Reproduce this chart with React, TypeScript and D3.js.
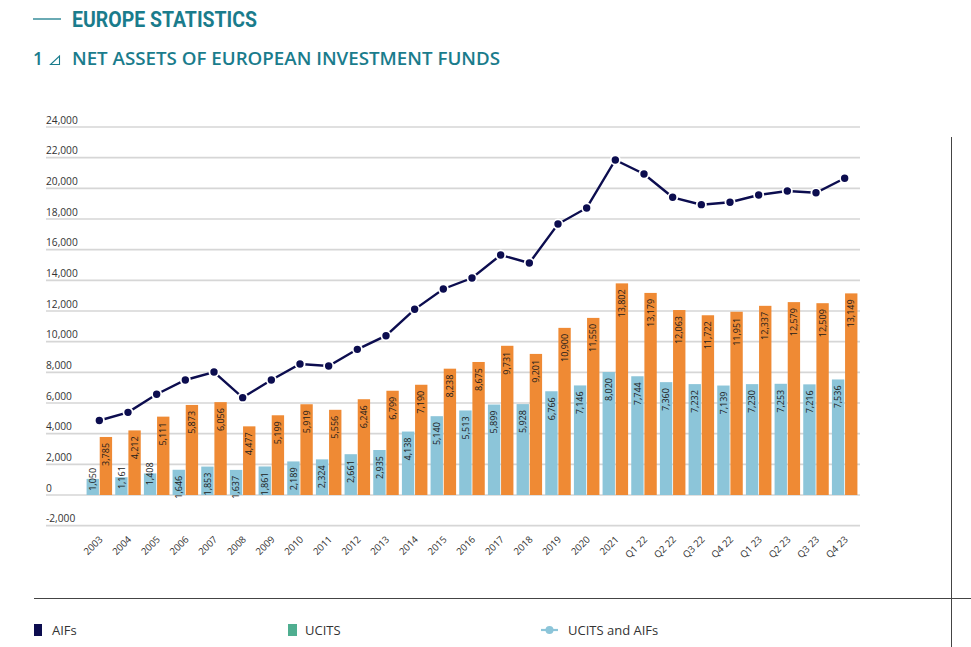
import React from "react";
import * as d3 from "d3";

const categories = ["2003","2004","2005","2006","2007","2008","2009","2010","2011","2012","2013","2014","2015","2016","2017","2018","2019","2020","2021","Q1 22","Q2 22","Q3 22","Q4 22","Q1 23","Q2 23","Q3 23","Q4 23"];
const blueValues = [1050,1161,1408,1646,1853,1637,1861,2189,2324,2661,2935,4138,5140,5513,5899,5928,6766,7146,8020,7744,7360,7232,7139,7230,7253,7216,7536];
const orangeValues = [3785,4212,5111,5873,6056,4477,5199,5919,5556,6246,6799,7190,8238,8675,9731,9201,10900,11550,13802,13179,12063,11722,11951,12337,12579,12509,13149];
const lineValues = [4860,5390,6570,7500,8020,6350,7500,8545,8415,9500,10390,12110,13435,14150,15650,15130,17670,18720,21850,20935,19415,18935,19090,19565,19825,19715,20655];
const yTicks = [-2000,0,2000,4000,6000,8000,10000,12000,14000,16000,18000,20000,22000,24000];
const legendItems = ["AIFs","UCITS","UCITS and AIFs"];

const TEAL = "#1a7c8c";
const BLUE = "#8cc5d9";
const ORANGE = "#ef8a34";
const NAVY = "#0c0d4f";
const fmt = (v: number) => d3.format(",")(v).replace("\u2212", "-");

export default function App() {
  const W = 971, H = 647;
  const y = d3.scaleLinear().domain([0, 24000]).range([495, 127]);
  const x = d3.scaleBand<string>().domain(categories).range([85, 859]).paddingInner(0.11).paddingOuter(0.055);
  const sub = d3.scaleBand<string>().domain(["b", "o"]).range([0, x.bandwidth()]).paddingInner(0.06);
  const cx = (c: string) => (x(c) as number) + x.bandwidth() / 2;
  const line = d3.line<number>().x((_, i) => cx(categories[i])).y(d => y(d));
  const font = "'Open Sans', 'Noto Sans', sans-serif";

  const label = (c: string, key: string, v: number) => {
    const bx = (x(c) as number) + (sub(key) as number) + sub.bandwidth() / 2;
    const top = y(v);
    const h = y(0) - top;
    const ly = h < 24 ? top - 11 : top + 6;
    return (
      <text key={c + key + "l"} transform={`translate(${bx + 3.2},${ly}) rotate(-90)`} textAnchor="end"
        fontSize={9} fontFamily={font} fill="#1a1a1a">{fmt(v)}</text>
    );
  };

  return (
    <div style={{ position: "absolute", left: 0, top: 0 }}>
      <svg width={W} height={H} style={{ display: "block", background: "#fff" }}>
        {/* header */}
        <line x1={33} x2={61} y1={19} y2={19} stroke={TEAL} strokeWidth={1.3} />
        <text x={72} y={27} fontFamily="Roboto, sans-serif" fontWeight={700} fontSize={22.5} fill={TEAL}
          textLength={185} lengthAdjust="spacingAndGlyphs">EUROPE STATISTICS</text>
        <text x={33} y={65} fontFamily={font} fontWeight={600} fontSize={17.5} fill={TEAL}>1</text>
        <path d="M50.5,64.5 L59.5,64.5 L59.5,56 Z" fill="none" stroke={TEAL} strokeWidth={1.1} />
        <text x={72} y={65} fontFamily={font} fontWeight={600} fontSize={17.5} fill={TEAL}
          textLength={428} lengthAdjust="spacingAndGlyphs">NET ASSETS OF EUROPEAN INVESTMENT FUNDS</text>

        {/* grid */}
        {yTicks.map(t => (
          <g key={t}>
            <line x1={46} x2={860} y1={y(t)} y2={y(t)} stroke="#d6d6d6" strokeWidth={1.6} />
            <text x={46} y={y(t) - 3.5} fontFamily={font} fontSize={10.2} fill="#333">{fmt(t)}</text>
          </g>
        ))}

        {/* bars */}
        {categories.map((c, i) => (
          <g key={c}>
            <rect x={(x(c) as number) + (sub("b") as number)} y={y(blueValues[i])} width={sub.bandwidth()}
              height={y(0) - y(blueValues[i])} fill={BLUE} />
            <rect x={(x(c) as number) + (sub("o") as number)} y={y(orangeValues[i])} width={sub.bandwidth()}
              height={y(0) - y(orangeValues[i])} fill={ORANGE} />
          </g>
        ))}
        {categories.map((c, i) => label(c, "b", blueValues[i]))}
        {categories.map((c, i) => label(c, "o", orangeValues[i]))}

        {/* line */}
        <path d={line(lineValues) || ""} fill="none" stroke={NAVY} strokeWidth={2.4} />
        {lineValues.map((v, i) => (
          <circle key={i} cx={cx(categories[i])} cy={y(v)} r={4.6} fill={NAVY} stroke="#fff" strokeWidth={1.8} />
        ))}

        {/* x labels */}
        {categories.map(c => (
          <text key={c + "x"} transform={`translate(${cx(c) + 4},${540}) rotate(-45)`} textAnchor="end"
            fontFamily={font} fontSize={9.6} fill="#333">{c}</text>
        ))}

        {/* frame lines */}
        <line x1={951.5} x2={951.5} y1={137} y2={H} stroke="#444" strokeWidth={1} />
        <line x1={34} x2={W} y1={598.5} y2={598.5} stroke="#444" strokeWidth={1.2} />

        {/* legend */}
        <rect x={34} y={624} width={8} height={12} fill={NAVY} />
        <text x={52} y={634.5} fontFamily={font} fontSize={13} fill="#333">{legendItems[0]}</text>
        <rect x={288} y={624} width={9} height={12} fill="#4fae90" />
        <text x={305} y={634.5} fontFamily={font} fontSize={13} fill="#333">{legendItems[1]}</text>
        <line x1={541} x2={558} y1={630} y2={630} stroke={BLUE} strokeWidth={2.2} />
        <circle cx={549.5} cy={630} r={4} fill={BLUE} />
        <text x={568} y={634.5} fontFamily={font} fontSize={13} fill="#333">{legendItems[2]}</text>
      </svg>
    </div>
  );
}
